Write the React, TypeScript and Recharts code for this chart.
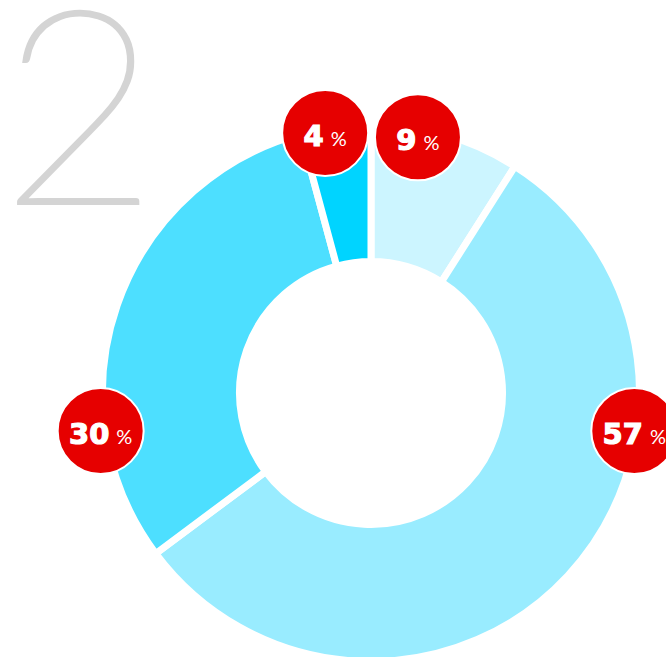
import { PieChart, Pie, Cell } from 'recharts'

const segments = ['A', 'B', 'C', 'D']
// slice sizes as measured from the ring; the printed labels are rounded
const shares = [9, 55.8, 31, 4.2]
const shareLabels = ['9', '57', '30', '4']
const sliceColors = ['#ccf5ff', '#99ecff', '#4ddfff', '#00d4ff']
// where each bubble sits around the ring (degrees, counter-clockwise from 3 o'clock)
const bubbleAngles = [79.6, -8.2, 188, 100]
const bubbleOffsets = [-8.5, -2.5, 4.5, -4.5]

const data = segments.map((name, i) => ({ name, value: shares[i], label: shareLabels[i] }))

const RADIAN = Math.PI / 180

function Bubble(props: any) {
  const { cx, cy, outerRadius, index } = props
  const a = bubbleAngles[index] * RADIAN
  const r = outerRadius + bubbleOffsets[index]
  const x = cx + r * Math.cos(a)
  const y = cy - r * Math.sin(a)
  return (
    <g>
      <circle cx={x} cy={y} r={43} fill="#e60000" stroke="#fff" strokeWidth={2} />
      <text x={x} y={y + 13} textAnchor="middle" fill="#fff">
        <tspan fontSize={29} fontWeight={700} fontFamily="'DejaVu Sans', sans-serif" stroke="#fff" strokeWidth={1.2}>
          {data[index].label}
        </tspan>
        <tspan fontSize={20} fontWeight={400} fontFamily="Lato, sans-serif" dx={7}>
          %
        </tspan>
      </text>
    </g>
  )
}

export default function App() {
  return (
    <div style={{ position: 'absolute', left: 0, top: 0, width: 666, height: 657, background: '#fff', overflow: 'hidden' }}>
      <div
        style={{
          position: 'absolute',
          left: 1,
          top: 4.5,
          fontFamily: 'Lato, sans-serif',
          fontWeight: 100,
          fontSize: 270,
          color: '#d4d4d4',
          WebkitTextStroke: '4px #d4d4d4',
          lineHeight: 0.7,
        }}
      >
        2
      </div>
      <PieChart
        width={666}
        height={657}
        margin={{ top: 0, right: 0, bottom: 0, left: 0 }}
        style={{ position: 'absolute', left: 0, top: 0 }}
      >
        <Pie
          data={data}
          dataKey="value"
          cx={371}
          cy={393}
          innerRadius={131.5}
          outerRadius={268.5}
          startAngle={90}
          endAngle={-270}
          stroke="#fff"
          strokeWidth={7}
          label={Bubble}
          labelLine={false}
          isAnimationActive={false}
        >
          {data.map((d, i) => (
            <Cell key={d.name} fill={sliceColors[i]} />
          ))}
        </Pie>
      </PieChart>
    </div>
  )
}
